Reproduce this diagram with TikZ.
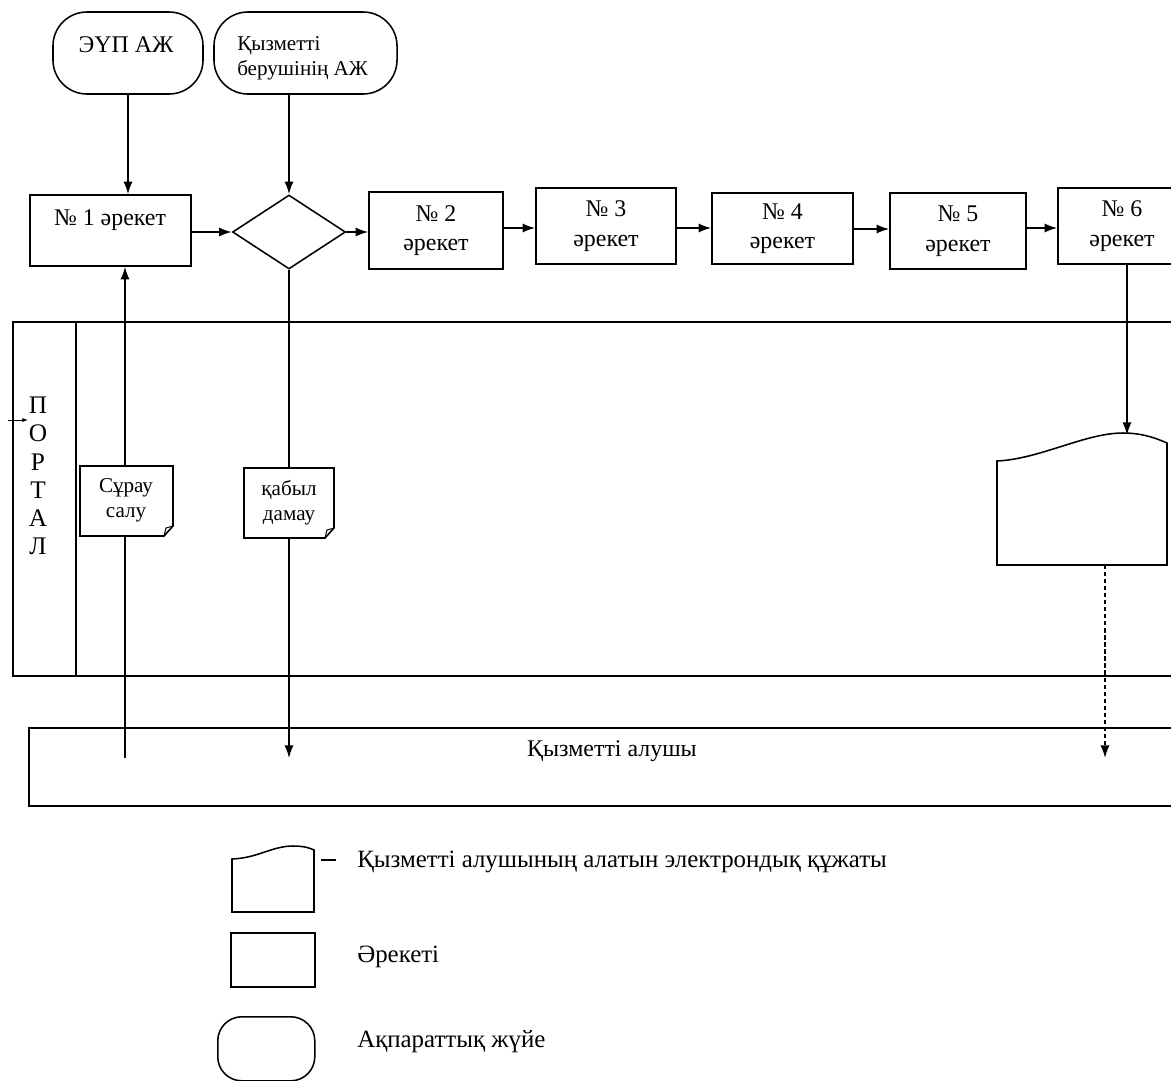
\documentclass[tikz,border=0pt]{standalone}
\usepackage{fontspec}
\setmainfont{Liberation Serif}
\usetikzlibrary{shapes.geometric,arrows.meta}
\begin{document}
\begin{tikzpicture}[x=0.025cm,y=-0.025cm,
  ln/.style={line width=1.1pt},
  arr/.style={line width=1.1pt,-{Latex[length=9pt,width=6.5pt]}},
  dasharr/.style={line width=1.1pt,densely dashed,-{Latex[length=9pt,width=6.5pt]}},
  actbox/.style={draw,line width=1.1pt,inner sep=0pt,fill=white},
  term/.style={draw,line width=1.1pt,inner sep=0pt,rounded corners=0.85cm},
  decis/.style={draw,line width=1.1pt,diamond,inner sep=0pt},
  btxt/.style={font=\fontsize{17}{21}\selectfont,align=center,inner sep=0pt},
  stxt/.style={font=\fontsize{15}{18}\selectfont,align=center,inner sep=0pt},
  ltxt/.style={font=\fontsize{17.7}{21}\selectfont,anchor=west,inner sep=0pt},
  doc/.style={draw,line width=1.1pt,fill=white}
]
\useasboundingbox (0,0) rectangle (1171,1080);

% ---- information systems
\node[term,minimum width=3.75cm,minimum height=2.05cm] (t1) at (128,53) {};
\node[btxt] (t1txt) at (126,45) {ЭҮП АЖ};
\node[term,minimum width=4.575cm,minimum height=2.05cm] (t2) at (305.5,53) {};
\node[stxt,align=left,anchor=north west] (t2txt) at (237,36) {Қызметті\\берушінің АЖ};

% ---- actions
\node[actbox,minimum width=4.025cm,minimum height=1.775cm] (a1) at (110.5,230.5) {};
\node[btxt] (a1txt) at (110,220) {№ 1 әрекет};
\node[decis,minimum width=2.825cm,minimum height=1.85cm] (d) at (289,232) {};
\node[actbox,minimum width=3.35cm,minimum height=1.925cm,btxt] (a2) at (436,230.5) {№ 2\\әрекет};
\node[actbox,minimum width=3.5cm,minimum height=1.9cm,btxt] (a3) at (606,226) {№ 3\\әрекет};
\node[actbox,minimum width=3.525cm,minimum height=1.775cm,btxt] (a4) at (782.5,228.5) {№ 4\\әрекет};
\node[actbox,minimum width=3.4cm,minimum height=1.9cm,btxt] (a5) at (958,231) {№ 5\\әрекет};
\node[actbox,minimum width=3.05cm,minimum height=1.9cm] (a6) at (1119,226) {};
\node[btxt] (a6txt) at (1122,226) {№ 6\\әрекет};

% ---- lanes
\draw[ln] (1200,322) -- (13,322) -- (13,676) -- (1200,676);
\draw[ln] (76,322) -- (76,676);
\node[btxt,font=\fontsize{18}{20}\selectfont] (portal) at (38,476) {П\\О\\Р\\Т\\А\\Л};
\coordinate (pin) at (8,420);
\coordinate (pout) at (28,420);
\draw[line width=0.7pt,-{Latex[length=4pt,width=3pt]}] (pin) -- (pout);

\node[draw,line width=1.1pt,minimum width=29.25cm,minimum height=1.95cm,anchor=north west] (rcp) at (28,727) {};
\node[btxt] (rcptxt) at (612,751) {Қызметті алушы};

% ---- connectors
\draw[arr] (t1.south) -- (t1.south |- a1.north);
\draw[arr] (d.north |- t2.south) -- (d.north);
\draw[arr] (a1.east |- d.west) -- (d.west);
\draw[arr] (d.east) -- (d.east -| a2.west);
\draw[arr] (a2.east |- 0,228) -- (a3.west |- 0,228);
\draw[arr] (a3.east |- 0,228) -- (a4.west |- 0,228);
\draw[arr] (a4.east |- 0,229) -- (a5.west |- 0,229);
\draw[arr] (a5.east |- 0,228) -- (a6.west |- 0,228);

\coordinate (c1) at (125,758);
\draw[arr] (c1) -- (c1 |- a1.south);
\coordinate (c2) at (289,758);
\draw[arr] (d.south) -- (c2);

\coordinate (doctop) at (1127,435);
\coordinate (docbot) at (1105,565);
\coordinate (c3) at (1105,758);
\draw[arr] (doctop |- a6.south) -- (doctop);
\draw[dasharr] (docbot) -- (c3);

% ---- documents in portal
\path[doc] (80,466) -- (173,466) -- (173,526) -- (164,536) -- (80,536) -- cycle;
\draw[line width=0.7pt] (164,536) -- (166,528) -- (173,526);
\node[stxt] (q1) at (126,500) {Сұрау\\салу};
\path[doc] (244,468) -- (334,468) -- (334,528) -- (325,538) -- (244,538) -- cycle;
\draw[line width=0.7pt] (325,538) -- (327,530) -- (334,528);
\node[stxt] (q2) at (289,503) {қабыл\\дамау};

\path[doc] (997,565) -- (997,461) .. controls (1040,459) and (1085,433) .. (1123,433)
  .. controls (1145,433) and (1160,440) .. (1167,443) -- (1167,565) -- cycle;

% ---- legend
\path[doc] (232,912) -- (232,859) .. controls (258,858) and (272,846) .. (293,846)
  .. controls (304,846) and (310,848) .. (314,850) -- (314,912) -- cycle;
\coordinate (dsA) at (321,860);
\coordinate (dsB) at (336,860);
\draw[line width=1.3pt] (dsA) -- (dsB);
\node[ltxt] (l1) at (357,862) {Қызметті алушының алатын электрондық құжаты};
\node[actbox,minimum width=2.1cm,minimum height=1.35cm,anchor=north west] (lr) at (230,932) {};
\node[ltxt] (l2) at (357,957) {Әрекеті};
\node[term,minimum width=2.425cm,minimum height=1.6cm,rounded corners=0.6cm,anchor=north west] (lt) at (217,1016) {};
\node[ltxt] (l3) at (357,1042) {Ақпараттық жүйе};
\end{tikzpicture}
\end{document}
